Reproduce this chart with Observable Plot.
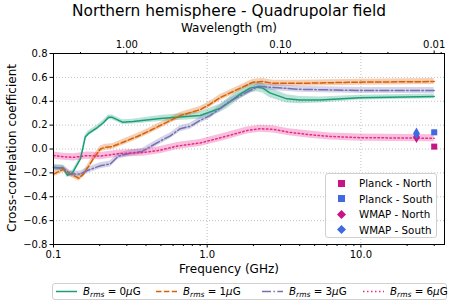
<!DOCTYPE html>
<html><head><meta charset="utf-8">
<script src="https://cdn.jsdelivr.net/npm/d3@7"></script>
<script src="https://cdn.jsdelivr.net/npm/@observablehq/plot@0.6"></script>
<style>
body{margin:0;background:#fff;font-family:"DejaVu Sans",sans-serif;color:#000;}
#wrap{position:relative;width:458px;height:307px;overflow:hidden;}
#title{position:absolute;left:0;top:0;width:458px;text-align:center;font-size:15.4px;line-height:22px;white-space:nowrap;}
#chart{position:absolute;left:0;top:22px;}
.lab{position:absolute;font-size:12px;white-space:nowrap;line-height:14px;}
#ylab{position:absolute;left:5px;top:53px;height:191px;width:14px;writing-mode:vertical-rl;transform:rotate(180deg);text-align:center;font-size:12px;line-height:14px;white-space:nowrap;}
#leg{position:absolute;left:325px;top:173px;width:112px;height:65px;background:rgba(255,255,255,0.85);border:1px solid #d0d0d0;border-radius:3px;box-sizing:border-box;}
.le{position:absolute;left:0;height:14px;font-size:10.3px;line-height:14px;white-space:nowrap;}
.le svg{position:absolute;left:11px;top:2.5px;}
.le span{position:absolute;left:33px;top:0;}
#bleg{position:absolute;left:52px;top:283px;width:395px;height:17px;border:1px solid #d0d0d0;border-radius:3px;box-sizing:border-box;background:#fff;}
.be{position:absolute;top:0;height:15px;font-size:10.3px;line-height:15px;white-space:nowrap;}
.be svg{position:absolute;left:0;top:0;}
.be span{position:absolute;left:27px;top:0;}
sub{font-size:7.5px;vertical-align:-2px;line-height:0;}
</style></head>
<body>
<div id="wrap">
  <div id="title">Northern hemisphere - Quadrupolar field</div>
  <div id="chart"></div>
  <div class="lab" style="left:0;width:458px;text-align:center;top:21px;">Wavelength (m)</div>
  <div class="lab" style="left:0;width:458px;text-align:center;top:262px;">Frequency (GHz)</div>
  <div id="ylab">Cross-correlation coefficient</div>
  <div id="leg"></div>
  <div id="bleg"></div>
</div>
<script>
// ---- data ----
const seriesNames = ["0", "1", "3", "6"];
const seriesColors = ["#1b9e77", "#d95f02", "#7570b3", "#e7298a"];
const seriesDash = [null, "5.5,2.4", "9,2.4,1.5,2.4", "1.5,2.5"];

const freq0 = [0.1, 0.116, 0.123, 0.133, 0.150, 0.161, 0.169, 0.193, 0.211, 0.228, 0.241, 0.281, 0.330, 0.495, 0.9, 1.21, 1.35, 1.64, 1.9, 2.1, 2.3, 2.56, 3.3, 4.0, 5.4, 9.8, 30];
const corr0 = [-0.155, -0.16, -0.22, -0.20, -0.08, 0.10, 0.13, 0.18, 0.22, 0.265, 0.265, 0.225, 0.23, 0.255, 0.28, 0.34, 0.38, 0.46, 0.51, 0.52, 0.51, 0.47, 0.42, 0.41, 0.41, 0.43, 0.44];
const err0  = [0.02, 0.02, 0.02, 0.02, 0.02, 0.02, 0.02, 0.02, 0.02, 0.02, 0.02, 0.02, 0.02, 0.025, 0.03, 0.035, 0.04, 0.04, 0.04, 0.04, 0.04, 0.04, 0.035, 0.03, 0.025, 0.02, 0.02];

const freq1 = [0.1, 0.116, 0.125, 0.146, 0.157, 0.182, 0.202, 0.218, 0.241, 0.281, 0.351, 0.426, 0.518, 0.668, 0.9, 1.045, 1.21, 1.41, 1.64, 1.99, 2.3, 2.69, 4.0, 9.8, 30];
const corr1 = [-0.21, -0.17, -0.20, -0.245, -0.21, -0.08, 0.0, 0.015, 0.02, 0.055, 0.105, 0.155, 0.21, 0.28, 0.33, 0.375, 0.43, 0.47, 0.51, 0.56, 0.565, 0.55, 0.55, 0.56, 0.565];
const err1  = [0.025, 0.025, 0.025, 0.025, 0.025, 0.025, 0.025, 0.025, 0.025, 0.025, 0.025, 0.025, 0.025, 0.025, 0.025, 0.025, 0.025, 0.025, 0.025, 0.025, 0.025, 0.025, 0.025, 0.025, 0.025];

const freq3 = [0.1, 0.116, 0.129, 0.150, 0.166, 0.202, 0.234, 0.264, 0.316, 0.378, 0.426, 0.518, 0.575, 0.668, 0.775, 0.9, 1.045, 1.41, 1.9, 2.15, 2.69, 4.0, 9.8, 30];
const corr3 = [-0.155, -0.16, -0.21, -0.21, -0.18, -0.14, -0.125, -0.06, -0.035, -0.02, 0.02, 0.08, 0.11, 0.17, 0.19, 0.24, 0.28, 0.40, 0.49, 0.525, 0.515, 0.50, 0.49, 0.49];
const err3  = [0.025, 0.025, 0.025, 0.025, 0.025, 0.025, 0.025, 0.025, 0.025, 0.025, 0.025, 0.025, 0.025, 0.025, 0.025, 0.025, 0.025, 0.025, 0.025, 0.025, 0.025, 0.025, 0.025, 0.025];

const freq6 = [0.1, 0.116, 0.135, 0.166, 0.202, 0.26, 0.384, 0.495, 0.64, 0.9, 1.27, 1.82, 2.2, 2.69, 3.4, 4.65, 6.3, 9.8, 30];
const corr6 = [-0.055, -0.065, -0.07, -0.055, -0.06, -0.04, -0.03, -0.01, 0.025, 0.05, 0.10, 0.155, 0.17, 0.165, 0.14, 0.12, 0.105, 0.095, 0.09];
const err6  = [0.03, 0.03, 0.03, 0.03, 0.03, 0.03, 0.03, 0.03, 0.03, 0.03, 0.03, 0.03, 0.03, 0.03, 0.03, 0.03, 0.03, 0.03, 0.03];

// observations
const obsNames   = ["Planck - North", "Planck - South", "WMAP - North", "WMAP - South"];
const obsFreq    = [30, 30, 23, 23];
const obsCorr    = [0.02, 0.14, 0.10, 0.13];
const obsSymbol  = ["square", "square", "diamond", "diamond"];
const obsColor   = ["#c71585", "#4169e1", "#c71585", "#4169e1"];

// ticks
const xMajor = [0.1, 1, 10];
const xMinor = [0.2, 0.3, 0.4, 0.5, 0.6, 0.7, 0.8, 0.9, 2, 3, 4, 5, 6, 7, 8, 9, 20, 30];
const wlMajor = [1, 0.1, 0.01];
const wlMinor = [2, 0.9, 0.8, 0.7, 0.6, 0.5, 0.4, 0.3, 0.2, 0.09, 0.08, 0.07, 0.06, 0.05, 0.04, 0.03, 0.02, 0.009];
const yTicks = [-0.8, -0.6, -0.4, -0.2, 0.0, 0.2, 0.4, 0.6, 0.8];

// ---- build ----
const C = 0.299792458; // GHz * m
const allF = [freq0, freq1, freq3, freq6], allC = [corr0, corr1, corr3, corr6], allE = [err0, err1, err3, err6];
const rows = [];
allF.forEach((fs, s) => fs.forEach((f, i) => rows.push({s, f, v: allC[s][i], lo: allC[s][i] - allE[s][i], hi: allC[s][i] + allE[s][i]})));
const obs = obsNames.map((n, i) => ({n, f: obsFreq[i], v: obsCorr[i], sym: obsSymbol[i], col: obsColor[i]}));
const fmtY = d => (d < 0 ? "\u2212" : "") + Math.abs(d).toFixed(1);

const marks = [
  Plot.gridX(xMajor, {stroke: "#b0b0b0", strokeOpacity: 1, strokeWidth: 0.8, strokeDasharray: "1,2"}),
  Plot.gridY(yTicks, {stroke: "#b0b0b0", strokeOpacity: 1, strokeWidth: 0.8, strokeDasharray: "1,2"})
];
seriesNames.forEach((n, s) => {
  const d = rows.filter(r => r.s === s);
  marks.push(Plot.areaY(d, {x: "f", y1: "lo", y2: "hi", fill: seriesColors[s], fillOpacity: 0.3}));
});
seriesNames.forEach((n, s) => {
  const d = rows.filter(r => r.s === s);
  marks.push(Plot.lineY(d, {x: "f", y: "v", stroke: seriesColors[s], strokeWidth: 1.5, strokeDasharray: seriesDash[s]}));
});
marks.push(Plot.dot(obs.filter(o => o.sym === "diamond"), {x: "f", y: "v", symbol: "diamond", fill: "col", r: 3.6, stroke: "none"}));
marks.push(Plot.dot(obs.filter(o => o.sym === "square"), {x: "f", y: "v", symbol: "square", fill: "col", r: 3.4, stroke: "none"}));
marks.push(Plot.frame({stroke: "black", strokeWidth: 1}));
marks.push(Plot.axisX(xMajor, {anchor: "bottom", tickSize: 3.5, tickPadding: 3, tickFormat: d => d.toFixed(1), label: null, fontSize: 10}));
marks.push(Plot.axisX(xMinor, {anchor: "bottom", tickSize: 2, tickFormat: () => "", label: null}));
marks.push(Plot.axisX(wlMajor.map(w => C / w), {anchor: "top", tickSize: 3.5, tickFormat: () => "", label: null}));
marks.push(Plot.axisX(wlMinor.map(w => C / w), {anchor: "top", tickSize: 2, tickFormat: () => "", label: null}));
marks.push(Plot.text(wlMajor, {x: w => C / w, text: w => w.toFixed(2), frameAnchor: "top", lineAnchor: "bottom", dy: -6, fontSize: 10}));
marks.push(Plot.axisY(yTicks, {anchor: "left", tickSize: 3.5, tickPadding: 2.5, tickFormat: fmtY, label: null, fontSize: 10}));

const chart = Plot.plot({
  width: 458, height: 258,
  marginLeft: 53, marginRight: 14, marginTop: 31, marginBottom: 36,
  style: {fontFamily: "DejaVu Sans", fontSize: "10px", background: "white", color: "black", overflow: "visible"},
  x: {type: "log", domain: [0.1, 35]},
  y: {domain: [-0.8, 0.8]},
  marks
});
document.getElementById("chart").appendChild(chart);

// in-plot legend
const leg = document.getElementById("leg");
obs.forEach((o, i) => {
  const e = document.createElement("div");
  e.className = "le";
  e.style.top = (2 + i * 15.5) + "px";
  const shape = o.sym === "square"
    ? `<rect x="1" y="1" width="7" height="7" fill="${o.col}"/>`
    : `<path d="M4.5,0 L9,4.5 L4.5,9 L0,4.5 Z" fill="${o.col}"/>`;
  e.innerHTML = `<svg width="9" height="9" viewBox="0 0 9 9">${shape}</svg><span>${o.n}</span>`;
  leg.appendChild(e);
});

// bottom legend
const bleg = document.getElementById("bleg");
const bPos = [3, 103, 209, 310];
seriesNames.forEach((n, s) => {
  const e = document.createElement("div");
  e.className = "be";
  e.style.left = bPos[s] + "px";
  e.innerHTML = `<svg width="22" height="15"><line x1="0" x2="21" y1="7.5" y2="7.5" stroke="${seriesColors[s]}" stroke-width="1.5" ${seriesDash[s] ? `stroke-dasharray="${seriesDash[s]}"` : ""}/></svg><span><i>B</i><sub><i>rms</i></sub> = ${n}<i>\u03bc</i>G</span>`;
  bleg.appendChild(e);
});
</script>
</body></html>
